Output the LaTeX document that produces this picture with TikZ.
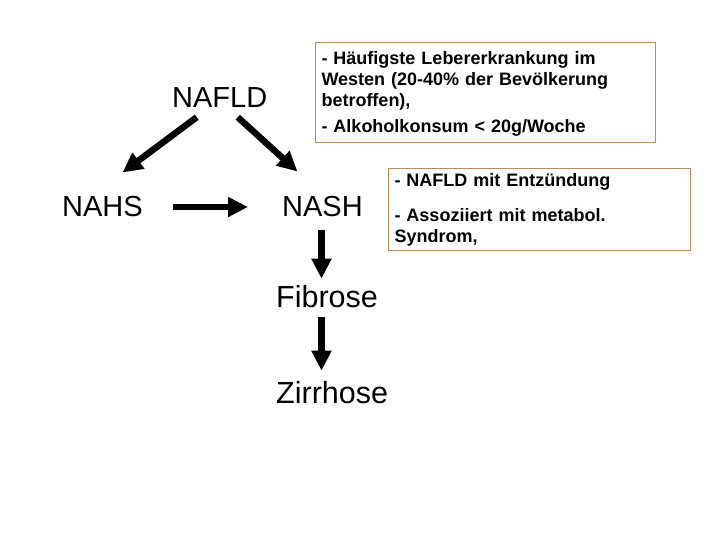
\documentclass[tikz,border=0pt]{standalone}
\usepackage{fontspec}
\setmainfont{Liberation Sans}
\usetikzlibrary{arrows.meta,calc}
\definecolor{boxborder}{RGB}{200,135,75}
\tikzset{
  big/.style={inner sep=0pt, anchor=base west, font=\fontsize{29}{34}\selectfont},
  bigger/.style={big, font=\fontsize{30.5}{34}\selectfont},
  infobox/.style={draw=boxborder, line width=1pt, fill=white, anchor=north west,
    align=left, inner xsep=6pt, inner ysep=0pt,
    font=\fontsize{18}{21}\selectfont\bfseries},
  bigarrow/.style={line width=6.5pt, -{Triangle[length=20pt,width=19pt]}}
}
\begin{document}
\begin{tikzpicture}[x=1pt,y=-1pt]
\useasboundingbox (0,0) rectangle (720,540);
\node[big] (nafld) at (172,108) {NAFLD};
\node[big] (nahs) at (62,217) {NAHS};
\node[big] (nash) at (282,217) {NASH};
\node[bigger] (fibrose) at (276,307) {Fibrose};
\node[bigger] (zirrhose) at (276,403) {Zirrhose};
\node[infobox, minimum width=340pt, minimum height=100pt, text width=328pt] (box1) at (315,42)
  {\rule{0pt}{16pt}- Häufigste Lebererkrankung im\\ Westen (20-40\% der Bevölkerung\\ betroffen),\\[5pt] - Alkoholkonsum < 20g/Woche};
\node[infobox, minimum width=302pt, minimum height=82pt, text width=290pt] (box2) at (388,168)
  {- NAFLD mit Entzündung\\[14pt] - Assoziiert mit metabol.\\ Syndrom,};
\draw[bigarrow] ($(nafld.south)+(-23,9)$) -- ($(nahs.north)+(20,-24)$);
\draw[bigarrow] ($(nafld.south)+(18,9)$) -- ($(nash.north)+(-25,-25)$);
\draw[bigarrow] ($(nahs.east)+(30,0)$) -- ($(nash.west)+(-34,0)$);
\draw[bigarrow] ($(nash.south)+(-1,13)$) -- ($(nash.south |- fibrose.north)+(-1,-6)$);
\draw[bigarrow] ($(nash.south |- fibrose.south)+(-1,10)$) -- ($(nash.south |- zirrhose.north)+(-1,-10)$);
\end{tikzpicture}
\end{document}
